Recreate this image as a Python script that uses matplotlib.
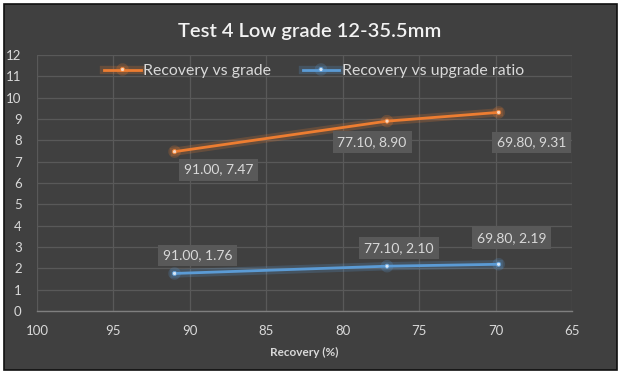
import matplotlib
matplotlib.use("Agg")
import matplotlib.pyplot as plt
from matplotlib.patches import Rectangle
import matplotlib.patheffects as pe

plt.rcParams['font.family'] = ['Lato', 'DejaVu Sans']

recovery = [91.00, 77.10, 69.80]
grade = [7.47, 8.90, 9.31]
upgrade_ratio = [1.76, 2.10, 2.19]
x_ticks = [100, 95, 90, 85, 80, 75, 70, 65]
y_ticks = list(range(0, 13))

title = "Test 4 Low grade 12-35.5mm"
xlabel = "Recovery (%)"
series_names = ["Recovery vs grade", "Recovery vs upgrade ratio"]

W, H = 624, 376
fig = plt.figure(figsize=(W / 100, H / 100), dpi=100)
fig.patch.set_facecolor('white')

bg = '#404040'
fig.patches.append(Rectangle((4 / W, 1 - 370 / H), (617 - 4) / W, (370 - 4) / H,
                             transform=fig.transFigure, facecolor=bg,
                             edgecolor='#111111', linewidth=1.2, zorder=-10))

ax = fig.add_axes([37 / W, 1 - 311 / H, (572 - 37) / W, (311 - 55) / H])
ax.set_facecolor(bg)

orange = '#ED7D31'
blue = '#5B9BD5'
text_col = '#D9D9D9'
grid_col = '#595959'

glow_o = [pe.Stroke(linewidth=6, foreground=orange, alpha=0.22), pe.Normal()]
glow_b = [pe.Stroke(linewidth=6, foreground=blue, alpha=0.22), pe.Normal()]

ax.plot(recovery, grade, color=orange, lw=2, marker='o', ms=3,
        mfc='#f7d6bd', mec=orange, mew=0.6, path_effects=glow_o,
        label=series_names[0], zorder=3)
ax.plot(recovery, upgrade_ratio, color=blue, lw=2, marker='o', ms=3,
        mfc='#d6e6f5', mec=blue, mew=0.6, path_effects=glow_b,
        label=series_names[1], zorder=3)

ax.set_xlim(100, 65)
ax.set_ylim(0, 12)
ax.set_xticks(x_ticks)
ax.set_yticks(y_ticks)
ax.grid(True, color=grid_col, lw=0.9)
ax.set_axisbelow(True)
for s in ['top', 'right', 'left']:
    ax.spines[s].set_visible(False)
ax.spines['bottom'].set_color('#7f7f7f')
ax.spines['bottom'].set_linewidth(1.0)
ax.tick_params(axis='both', length=0, colors=text_col, labelsize=9.5)
ax.tick_params(axis='y', pad=11)
ax.tick_params(axis='x', pad=10)

# data labels
offsets_grade = [(44, -18), (-15, -21), (33, -30)]
offsets_ratio = [(23, 18), (12, 18), (13, 26)]
box = dict(boxstyle='square,pad=0.35', facecolor='#595959', edgecolor='none')
for x, y, off in zip(recovery, grade, offsets_grade):
    ax.annotate(f"{x:.2f}, {y:.2f}", (x, y), xytext=off, textcoords='offset pixels',
                ha='center', va='center', color=text_col, fontsize=10, bbox=box, zorder=5)
for x, y, off in zip(recovery, upgrade_ratio, offsets_ratio):
    ax.annotate(f"{x:.2f}, {y:.2f}", (x, y), xytext=off, textcoords='offset pixels',
                ha='center', va='center', color=text_col, fontsize=10, bbox=box, zorder=5)

leg = ax.legend(loc='center', bbox_to_anchor=(314 / W, 1 - 71 / H),
                bbox_transform=fig.transFigure, ncol=2, frameon=False,
                fontsize=11.4, handlelength=2.3, columnspacing=2.0, handletextpad=0.15)
for t in leg.get_texts():
    t.set_color(text_col)

fig.text(310 / W, 1 - 31 / H, title, ha='center', va='center',
         color='#F2F2F2', fontsize=14.5, fontweight='semibold')
fig.text(304 / W, 1 - 352 / H, xlabel, ha='center', va='center',
         color=text_col, fontsize=8.5, fontweight='bold')

fig.savefig('out.png', dpi=100, facecolor=fig.get_facecolor())
